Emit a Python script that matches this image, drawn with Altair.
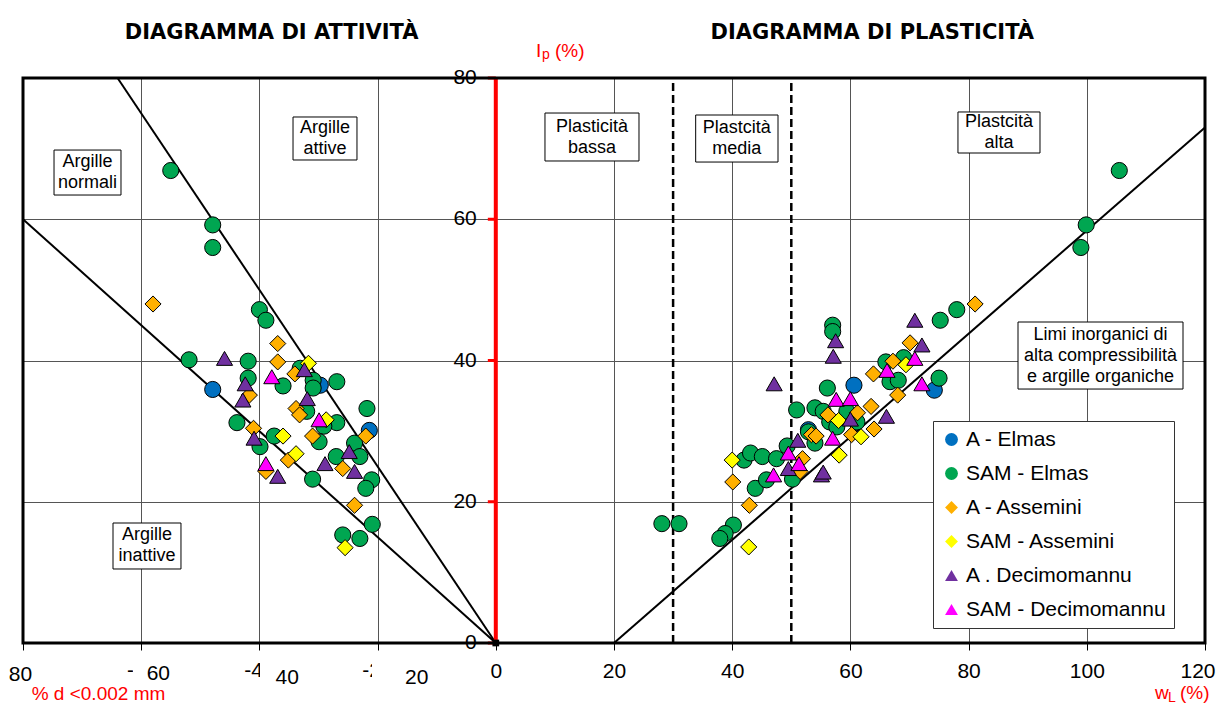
import altair as alt
import pandas as pd

SERIES = ["A - Elmas", "SAM - Elmas", "A - Assemini", "SAM - Assemini",
          "A . Decimomannu", "SAM - Decimomannu"]
COLORS = ["#0070C0", "#00A651", "#FFB000", "#FFFF00", "#7030A0", "#FF00FF"]
SHAPES = ["circle", "circle", "diamond", "diamond", "triangle-up", "triangle-up"]

# ---- Diagramma di attivita: % d < 0.002 mm (frazione argillosa) vs Ip ----
a_elmas_cf = [47.9, 29.7, 21.4]
a_elmas_ip_a = [35.9, 36.5, 30.1]
sam_elmas_cf = [55.0, 47.9, 47.9, 40.0, 38.9, 51.9, 41.9, 41.9, 36.0, 33.1, 30.9, 30.9,
                26.9, 21.8, 32.0, 43.8, 26.9, 29.1, 39.9, 37.5, 29.9, 23.9, 27.0, 23.0,
                21.0, 22.0, 31.0, 20.9, 25.9, 23.0]
sam_elmas_ip_a = [66.9, 59.2, 56.0, 47.2, 45.7, 40.1, 39.9, 37.5, 36.4, 38.9, 37.2, 36.1,
                  37.0, 33.2, 32.8, 31.2, 31.2, 30.7, 27.8, 29.3, 28.5, 28.3, 26.4, 26.4,
                  23.1, 21.9, 23.2, 16.8, 15.3, 14.8]
a_ass_cf = [58.0, 36.9, 36.9, 41.7, 34.0, 33.8, 33.2, 22.0, 41.0, 31.0, 35.1, 38.9, 25.9, 23.9]
a_ass_ip_a = [48.0, 42.4, 39.8, 35.1, 38.1, 33.2, 32.3, 29.3, 30.4, 29.3, 25.9, 24.3, 24.7, 19.5]
sam_ass_cf = [31.7, 28.7, 36.0, 33.8, 25.5]
sam_ass_ip_a = [39.6, 31.6, 29.3, 26.8, 13.5]
a_dec_cf = [45.9, 42.4, 42.8, 32.4, 31.9, 40.9, 36.9, 28.9, 24.8, 23.9]
a_dec_ip_a = [40.3, 36.7, 34.4, 38.7, 34.6, 29.0, 23.6, 25.4, 27.1, 24.3]
sam_dec_cf = [37.9, 29.9, 38.9]
sam_dec_ip_a = [37.7, 31.6, 25.4]

# ---- Diagramma di plasticita: wL vs Ip ----
a_elmas_wl = [52.9, 60.6, 74.2]
a_elmas_ip_p = [30.2, 36.5, 35.8]
sam_elmas_wl = [28.1, 31.0, 40.2, 38.8, 37.9, 43.9, 45.8, 50.2, 42.0, 43.1, 45.1, 47.5,
                49.3, 50.9, 52.9, 54.0, 54.0, 55.4, 56.1, 56.5, 57.7, 59.4, 61.1, 57.0,
                57.0, 66.0, 66.7, 68.1, 69.0, 75.0, 75.2, 78.0, 105.5, 99.9, 99.0]
sam_elmas_ip_p = [16.9, 16.9, 16.7, 15.5, 14.8, 21.9, 23.1, 23.2, 25.9, 26.9, 26.4, 26.1,
                  27.9, 33.0, 29.9, 28.3, 33.3, 32.8, 36.1, 31.3, 30.6, 32.8, 31.3, 45.0,
                  44.1, 39.8, 37.0, 37.2, 40.4, 37.5, 45.7, 47.2, 66.9, 59.2, 56.0]
a_ass_wl = [42.9, 40.1, 51.9, 51.5, 53.4, 54.2, 56.2, 61.2, 60.2, 64.0, 63.5, 63.9,
            67.2, 68.0, 70.1, 81.1]
a_ass_ip_p = [19.5, 22.8, 26.1, 24.3, 29.5, 29.3, 32.3, 32.6, 29.5, 30.3, 33.5, 38.1,
              39.9, 35.1, 42.5, 48.0]
sam_ass_wl = [42.8, 40.0, 58.0, 61.8, 58.1, 69.4]
sam_ass_ip_p = [13.6, 25.9, 31.5, 29.2, 26.6, 39.4]
a_dec_wl = [49.5, 51.1, 60.0, 66.1, 55.1, 55.4, 57.5, 57.1, 47.1, 72.1, 70.9]
a_dec_ip_p = [24.7, 28.7, 31.7, 32.1, 23.8, 24.2, 42.8, 40.6, 36.7, 42.2, 45.7]
sam_dec_wl = [47.0, 49.5, 51.3, 57.6, 60.0, 57.0, 66.2, 70.9, 72.1]
sam_dec_ip_p = [23.8, 26.9, 25.4, 34.5, 34.6, 29.0, 38.6, 40.3, 36.7]

# reference lines (activity 0.75 and 1.25, Casagrande A-line)
line_id = ["att075", "att075", "att125", "att125", "lineaA", "lineaA"]
line_x = [-80, 0, -64, 0, 20, 120]
line_y = [60, 0, 80, 0, 0, 73]
dash_x = [30, 50]
tick_vals_y = [0, 20, 40, 60, 80]

rows = []
groups = [
    (SERIES[0], a_elmas_cf, a_elmas_ip_a, a_elmas_wl, a_elmas_ip_p),
    (SERIES[1], sam_elmas_cf, sam_elmas_ip_a, sam_elmas_wl, sam_elmas_ip_p),
    (SERIES[2], a_ass_cf, a_ass_ip_a, a_ass_wl, a_ass_ip_p),
    (SERIES[3], sam_ass_cf, sam_ass_ip_a, sam_ass_wl, sam_ass_ip_p),
    (SERIES[4], a_dec_cf, a_dec_ip_a, a_dec_wl, a_dec_ip_p),
    (SERIES[5], sam_dec_cf, sam_dec_ip_a, sam_dec_wl, sam_dec_ip_p),
]
for name, cf, ipa, wl, ipp in groups:
    for c, v in zip(cf, ipa):
        rows.append({"series": name, "x": -c, "y": v})
    for w, v in zip(wl, ipp):
        rows.append({"series": name, "x": w, "y": v})
pts_df = pd.DataFrame(rows)

FONT = "Liberation Sans"
PX_PER_Y = 565 / 80.0
xs = alt.Scale(domain=[-80, 120], nice=False, zero=False)
ys = alt.Scale(domain=[0, 80], nice=False, zero=False)
xaxis = alt.Axis(values=list(range(-80, 121, 20)), grid=True, gridColor="#555555", gridWidth=1,
                 domain=False, ticks=True, tickColor="black", tickSize=7, tickWidth=1,
                 labelFont=FONT, labelFontSize=21, labelColor="black", labelPadding=10,
                 labelFlush=True, labelFlushOffset=10,
                 labelExpr="datum.value < 0 ? '' : datum.label", title=None, zindex=0)
yaxis = alt.Axis(values=tick_vals_y, grid=True, gridColor="#555555", gridWidth=1,
                 labels=False, ticks=False, domain=False, title=None, zindex=0)
X = alt.X("x:Q", scale=xs, axis=xaxis)
Y = alt.Y("y:Q", scale=ys, axis=yaxis)

lines_df = pd.DataFrame({"id": line_id, "x": line_x, "y": line_y})
dash_df = pd.DataFrame({"x": dash_x, "y": [0] * len(dash_x), "y2": [80] * len(dash_x)})
red_df = pd.DataFrame({"x": [0], "y": [0], "y2": [80]})
redtick_df = pd.DataFrame({"x": [-1.35] * 5, "x2": [0] * 5, "y": tick_vals_y})
origin_df = pd.DataFrame({"x": [0], "y": [0]})

dashed = alt.Chart(dash_df).mark_rule(color="black", strokeWidth=2.5, strokeDash=[8, 4]).encode(
    x=X, y=Y, y2=alt.Y2("y2:Q"))
lines = alt.Chart(lines_df).mark_line(color="black", strokeWidth=2).encode(
    x=X, y=Y, detail="id:N")
redline = alt.Chart(red_df).mark_rule(color="#FF0000", strokeWidth=4).encode(
    x=X, y=Y, y2=alt.Y2("y2:Q"))
redticks = alt.Chart(redtick_df).mark_rule(color="#FF0000", strokeWidth=3).encode(
    x=X, x2=alt.X2("x2:Q"), y=Y)
origin = alt.Chart(origin_df).mark_point(shape="square", filled=True, color="black",
                                         size=45, opacity=1).encode(x=X, y=Y)

leg = alt.Legend(title=None, orient="none", legendX=910, legendY=343, fillColor="white",
                 strokeColor="#333333", padding=8, labelFont=FONT, labelFontSize=21,
                 labelColor="black", symbolSize=165, symbolStrokeColor="black",
                 symbolStrokeWidth=1, rowPadding=12, labelOffset=4, symbolOpacity=1,
                 labelLimit=400)
points = alt.Chart(pts_df).mark_point(filled=True, size=260, stroke="black", strokeWidth=1,
                                      opacity=1).encode(
    x=X, y=Y,
    color=alt.Color("series:N", scale=alt.Scale(domain=SERIES, range=COLORS), legend=leg),
    shape=alt.Shape("series:N", scale=alt.Scale(domain=SERIES, range=SHAPES), legend=leg),
)

# annotation boxes
LINE_H = 21
box_text = ["Argille\nnormali", "Argille\nattive", "Argille\ninattive", "Plasticità\nbassa",
            "Plastcità\nmedia", "Plastcità\nalta",
            "Limi inorganici  di\nalta compressibilità\ne argille organiche"]
box_x1 = [-74.75, -34.31, -64.77, 8.32, 33.82, 78.2, 88.36]
box_x2 = [-63.42, -23.49, -53.27, 24.23, 47.75, 92.08, 116.28]
box_y1 = [69.8, 74.48, 16.99, 75.04, 74.76, 75.19, 45.45]
box_y2 = [63.43, 68.39, 10.48, 68.25, 68.1, 69.38, 35.96]
boxes_df = pd.DataFrame({"x": box_x1, "x2": box_x2, "y": box_y1, "y2": box_y2, "text": box_text})
boxes_df["xc"] = (boxes_df["x"] + boxes_df["x2"]) / 2
nlines = boxes_df["text"].str.count("\n")
boxes_df["yc"] = (boxes_df["y"] + boxes_df["y2"]) / 2 + nlines * LINE_H / 2 / PX_PER_Y
boxes = alt.Chart(boxes_df).mark_rect(fill="white", stroke="black", strokeWidth=1).encode(
    x=X, x2=alt.X2("x2:Q"), y=Y, y2=alt.Y2("y2:Q"))
box_txt = alt.Chart(boxes_df).mark_text(font=FONT, fontSize=18, lineHeight=LINE_H,
                                        align="center", baseline="middle", lineBreak="\n",
                                        color="black").encode(
    x=alt.X("xc:Q", scale=xs, axis=xaxis), y=alt.Y("yc:Q", scale=ys, axis=yaxis), text="text:N")

border_df = pd.DataFrame({"x": [-80], "x2": [120], "y": [0], "y2": [80]})
border = alt.Chart(border_df).mark_rect(fill="white", fillOpacity=0, stroke="black",
                                        strokeWidth=3).encode(
    x=X, x2=alt.X2("x2:Q"), y=Y, y2=alt.Y2("y2:Q"))

# y tick labels next to the red axis
ylab_df = pd.DataFrame({"x": [0] * 5, "y": tick_vals_y, "text": [str(v) for v in tick_vals_y]})
ylabs = alt.Chart(ylab_df).mark_text(font=FONT, fontSize=21, align="right", baseline="middle",
                                     dx=-19, color="black").encode(x=X, y=Y, text="text:N")

# negative tick labels, partly hidden by the boxed clay-fraction labels
frag_df = pd.DataFrame({"x": [-61.22, -39.39, -19.42], "y": [-4.81] * 3,
                        "text": ["-", "-4", "-2"]})
frags = alt.Chart(frag_df).mark_text(font=FONT, fontSize=21, align="right",
                                     baseline="alphabetic", color="black").encode(
    x=X, y=Y, text="text:N")
cover_df = pd.DataFrame({"x": [-61.4, -39.9, -20.95], "x2": [-54.8, -32.79, -10.8],
                         "y": [-2.12] * 3, "y2": [-6.65] * 3})
covers = alt.Chart(cover_df).mark_rect(fill="white").encode(
    x=X, x2=alt.X2("x2:Q"), y=Y, y2=alt.Y2("y2:Q"))
cflab_df = pd.DataFrame({"x": [-80.42, -57.1, -35.28, -13.38], "y": [-5.4, -5.2, -5.8, -5.8],
                         "text": ["80", "60", "40", "20"]})
cflabs = alt.Chart(cflab_df).mark_text(font=FONT, fontSize=21, align="center",
                                       baseline="alphabetic", color="black").encode(
    x=X, y=Y, text="text:N")

# titles
title_df = pd.DataFrame({"x": [-37.92, 63.71], "y": [85.56, 85.56],
                         "text": ["DIAGRAMMA DI ATTIVITÀ", "DIAGRAMMA DI PLASTICITÀ"]})
titles = alt.Chart(title_df).mark_text(font="DejaVu Sans", fontWeight="bold", fontSize=21,
                                       align="center", baseline="alphabetic",
                                       color="black").encode(x=X, y=Y, text="text:N")

# red axis titles
red_big_df = pd.DataFrame({"x": [6.80, 10.02, -78.53, 111.54, 115.77],
                           "y": [82.97, 82.97, -8.0, -7.95, -7.95],
                           "text": ["I", "(%)", "% d <0.002 mm", "w", "(%)"]})
red_small_df = pd.DataFrame({"x": [7.82, 113.74], "y": [82.69, -8.3], "text": ["p", "L"]})
red_big = alt.Chart(red_big_df).mark_text(font=FONT, fontSize=19, align="left",
                                          baseline="alphabetic", color="#FF0000").encode(
    x=X, y=Y, text="text:N")
red_small = alt.Chart(red_small_df).mark_text(font=FONT, fontSize=14, align="left",
                                              baseline="alphabetic", color="#FF0000").encode(
    x=X, y=Y, text="text:N")

chart = alt.layer(
    dashed, lines, redline, redticks, points, origin, boxes, box_txt, border,
    ylabs, frags, covers, cflabs, titles, red_big, red_small
).properties(
    width=1182, height=565,
    autosize=alt.AutoSizeParams(type="none"),
    padding={"left": 15, "top": 70, "right": 11, "bottom": 62},
    background="white",
).configure_view(strokeWidth=0)

chart.save("out.html", embed_options={"renderer": "svg", "actions": False})
